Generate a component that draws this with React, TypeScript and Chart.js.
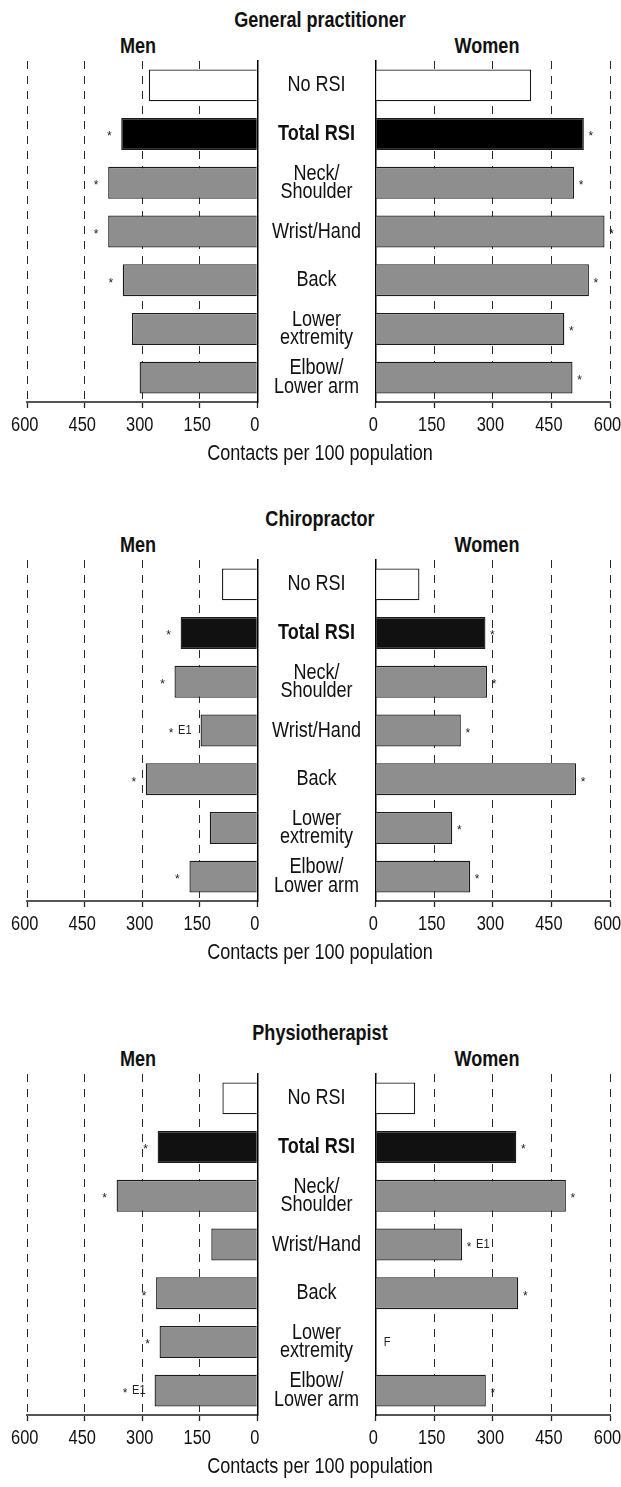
import React, { useEffect, useRef } from 'react';
import { Chart, registerables } from 'chart.js';

Chart.register(...registerables);

const FONT = "'Liberation Sans', Arial, Helvetica, sans-serif";
const SQUEEZE = 0.82; // condensed look of the original typeface

// ---------- data ----------
const categories: (string | string[])[] = [
  'No RSI',
  'Total RSI',
  ['Neck/', 'Shoulder'],
  'Wrist/Hand',
  'Back',
  ['Lower', 'extremity'],
  ['Elbow/', 'Lower arm'],
];

const AXIS_MAX = 600;
const AXIS_STEP = 150;
const X_LABEL = 'Contacts per 100 population';
const MEN_LABEL = 'Men';
const WOMEN_LABEL = 'Women';

const gpTitle = 'General practitioner';
const gpMen = [283, 355, 389, 389, 351, 327, 307];
const gpWomen = [398, 533, 508, 586, 546, 483, 504];
const gpMenNotes = ['', '*', '*', '*', '*', '', ''];
const gpWomenNotes = ['', '*', '*', '*', '*', '*', '*'];

const chiroTitle = 'Chiropractor';
const chiroMen = [92, 200, 216, 148, 291, 124, 177];
const chiroWomen = [112, 281, 285, 218, 513, 196, 242];
const chiroMenNotes = ['', '*', '*', '*E1', '*', '', '*'];
const chiroWomenNotes = ['', '*', '*', '*', '*', '*', '*'];

const physioTitle = 'Physiotherapist';
const physioMen = [91, 260, 367, 120, 264, 255, 268];
const physioWomen: (number | null)[] = [101, 360, 487, 221, 365, null, 282];
const physioMenNotes = ['', '*', '*', '', '*', '*', '*E1'];
const physioWomenNotes = ['', '*', '*', '*E1', '*', 'F', '*'];

// ---------- layout ----------
const MEN_LEFT = 27.3;
const MEN_RIGHT = 257.3;
const WOMEN_LEFT = 375.7;
const WOMEN_RIGHT = 610;
const PLOT_H = 341;
const PAD_TOP = 6;
const X_AXIS_H = 40;
const MEN_CANVAS_W = 280;
const WOMEN_CANVAS_X = 250;
const WOMEN_CANVAS_W = 371;

const panels = [
  { title: gpTitle, men: gpMen, women: gpWomen, menNotes: gpMenNotes, womenNotes: gpWomenNotes, totalColor: '#000000', top: 61 },
  { title: chiroTitle, men: chiroMen, women: chiroWomen, menNotes: chiroMenNotes, womenNotes: chiroWomenNotes, totalColor: '#111111', top: 560 },
  { title: physioTitle, men: physioMen, women: physioWomen, menNotes: physioMenNotes, womenNotes: physioWomenNotes, totalColor: '#111111', top: 1074 },
];

type SideProps = {
  isMen: boolean;
  values: (number | null)[];
  notes: string[];
  totalColor: string;
  top: number;
};

function squeezedText(
  ctx: CanvasRenderingContext2D,
  text: string,
  x: number,
  y: number,
  align: CanvasTextAlign,
) {
  ctx.save();
  ctx.translate(x, y);
  ctx.scale(SQUEEZE, 1);
  ctx.textAlign = align;
  ctx.textBaseline = 'middle';
  ctx.fillText(text, 0, 0);
  ctx.restore();
}

function drawStar(ctx: CanvasRenderingContext2D, x: number, y: number) {
  ctx.font = `12px ${FONT}`;
  ctx.textAlign = 'center';
  ctx.textBaseline = 'middle';
  ctx.fillText('*', x, y + 3);
}

function SideChart({ isMen, values, notes, totalColor, top }: SideProps) {
  const ref = useRef<HTMLCanvasElement | null>(null);
  const width = isMen ? MEN_CANVAS_W : WOMEN_CANVAS_W;
  const height = PAD_TOP + PLOT_H + X_AXIS_H;

  useEffect(() => {
    if (!ref.current) return;
    const colors = values.map((_, i) => (i === 0 ? '#ffffff' : i === 1 ? totalColor : '#8e8e8e'));
    const labelIds = categories.map((c) => (Array.isArray(c) ? c.join(' ') : c));

    const notesPlugin = {
      id: 'notes',
      afterDatasetsDraw(chart: any) {
        const ctx: CanvasRenderingContext2D = chart.ctx;
        const meta = chart.getDatasetMeta(0);
        const xs = chart.scales.x;
        const ys = chart.scales.y;
        ctx.save();
        ctx.fillStyle = '#222';
        notes.forEach((note, i) => {
          if (!note) return;
          const y = ys.getPixelForValue(i);
          const v = values[i];
          const end = v == null ? xs.getPixelForValue(0) : meta.data[i].x;
          ctx.font = `13.5px ${FONT}`;
          if (note === 'F') {
            squeezedText(ctx, 'F', end + 8, y, 'left');
            return;
          }
          const hasE = note.indexOf('E1') >= 0;
          if (isMen) {
            if (hasE) {
              const w = ctx.measureText('E1').width * SQUEEZE;
              squeezedText(ctx, 'E1', end - 9, y, 'right');
              drawStar(ctx, end - 9 - w - 7, y);
            } else {
              drawStar(ctx, end - 12, y);
            }
          } else {
            drawStar(ctx, end + 7, y);
            if (hasE) {
              ctx.font = `13.5px ${FONT}`;
              squeezedText(ctx, 'E1', end + 14, y, 'left');
            }
          }
        });
        ctx.restore();
      },
    };

    const textPlugin = {
      id: 'axisText',
      afterDraw(chart: any) {
        const ctx: CanvasRenderingContext2D = chart.ctx;
        const xs = chart.scales.x;
        const ys = chart.scales.y;
        ctx.save();
        ctx.fillStyle = '#111';
        // x tick labels, taken from the scale's own ticks
        ctx.font = `20px ${FONT}`;
        xs.ticks.forEach((t: any) => {
          const x = xs.getPixelForValue(t.value);
          squeezedText(ctx, String(t.label), x - 2.5, xs.top + 23, 'center');
        });
        // category labels in the middle column (women chart only)
        if (!isMen) {
          const cx = (ys.left + ys.right) / 2;
          categories.forEach((c, i) => {
            const y = ys.getPixelForValue(i);
            ctx.font = `${i === 1 ? 'bold ' : ''}22px ${FONT}`;
            const lines = Array.isArray(c) ? c : [c];
            const lh = 18.6;
            lines.forEach((ln, k) => {
              squeezedText(ctx, ln, cx, y + (k - (lines.length - 1) / 2) * lh, 'center');
            });
          });
        }
        ctx.restore();
      },
    };

    const chart = new Chart(ref.current, {
      type: 'bar',
      data: {
        labels: labelIds,
        datasets: [
          {
            data: values as any,
            backgroundColor: colors,
            borderColor: '#1a1a1a',
            borderWidth: 1.3,
            borderSkipped: 'start',
            barPercentage: 0.655,
            categoryPercentage: 1,
          },
        ],
      },
      options: {
        indexAxis: 'y',
        responsive: false,
        animation: false,
        devicePixelRatio: 1,
        layout: {
          padding: isMen
            ? { left: MEN_LEFT, right: MEN_CANVAS_W - MEN_RIGHT, top: PAD_TOP, bottom: 0 }
            : { left: MEN_RIGHT - WOMEN_CANVAS_X, right: WOMEN_CANVAS_X + WOMEN_CANVAS_W - WOMEN_RIGHT, top: PAD_TOP, bottom: 0 },
        },
        plugins: {
          legend: { display: false },
          tooltip: { enabled: false },
          title: { display: false },
        },
        scales: {
          x: {
            type: 'linear',
            position: 'bottom',
            min: 0,
            max: AXIS_MAX,
            reverse: isMen,
            ticks: {
              stepSize: AXIS_STEP,
              autoSkip: false,
              maxRotation: 0,
              display: false,
            },
            grid: {
              drawOnChartArea: true,
              drawTicks: true,
              color: (c: any) => (c.tick && c.tick.value === 0 ? 'rgba(0,0,0,0)' : '#2a2a2a'),
              lineWidth: 1,
              tickLength: 6,
              tickColor: '#222',
              tickWidth: 1.3,
              tickBorderDash: [],
            },
            border: { display: true, color: '#555', width: 2, dash: [8, 7] },
            afterFit: (s: any) => {
              s.height = X_AXIS_H;
              s.paddingLeft = 0;
              s.paddingRight = 0;
            },
          },
          y: {
            type: 'category',
            position: isMen ? 'right' : 'left',
            offset: true,
            grid: { display: false },
            ticks: { display: false },
            border: { display: true, color: '#000', width: 1.5 },
            afterFit: (s: any) => {
              s.width = isMen ? 0 : WOMEN_LEFT - MEN_RIGHT;
              s.paddingTop = 0;
              s.paddingBottom = 0;
            },
          },
        },
      },
      plugins: [notesPlugin, textPlugin],
    } as any);
    return () => chart.destroy();
  }, []);

  return (
    <canvas
      ref={ref}
      width={width}
      height={height}
      style={{
        position: 'absolute',
        left: isMen ? 0 : WOMEN_CANVAS_X,
        top: top - PAD_TOP,
        width,
        height,
      }}
    />
  );
}

const textBase: React.CSSProperties = {
  position: 'absolute',
  fontFamily: FONT,
  color: '#111',
  textAlign: 'center',
  whiteSpace: 'nowrap',
  height: 26,
  lineHeight: '26px',
  fontSize: 22,
  transform: `scaleX(${SQUEEZE})`,
  transformOrigin: '50% 50%',
};

export default function App() {
  return (
    <div
      style={{
        position: 'absolute',
        left: 0,
        top: 0,
        width: 621,
        height: 1487,
        overflow: 'hidden',
        background: '#fff',
      }}
    >
      {panels.map((p, idx) => (
        <React.Fragment key={idx}>
          <div style={{ ...textBase, left: 20, width: 600, top: p.top - 41 - 13, fontWeight: 'bold' }}>
            {p.title}
          </div>
          <div style={{ ...textBase, left: 88, width: 100, top: p.top - 15 - 13, fontWeight: 'bold' }}>
            {MEN_LABEL}
          </div>
          <div style={{ ...textBase, left: 437, width: 100, top: p.top - 15 - 13, fontWeight: 'bold' }}>
            {WOMEN_LABEL}
          </div>
          <SideChart isMen={true} values={p.men} notes={p.menNotes} totalColor={p.totalColor} top={p.top} />
          <SideChart isMen={false} values={p.women} notes={p.womenNotes} totalColor={p.totalColor} top={p.top} />
          <div style={{ ...textBase, left: 20, width: 600, top: p.top + PLOT_H + 51 - 13 }}>
            {X_LABEL}
          </div>
        </React.Fragment>
      ))}
    </div>
  );
}
